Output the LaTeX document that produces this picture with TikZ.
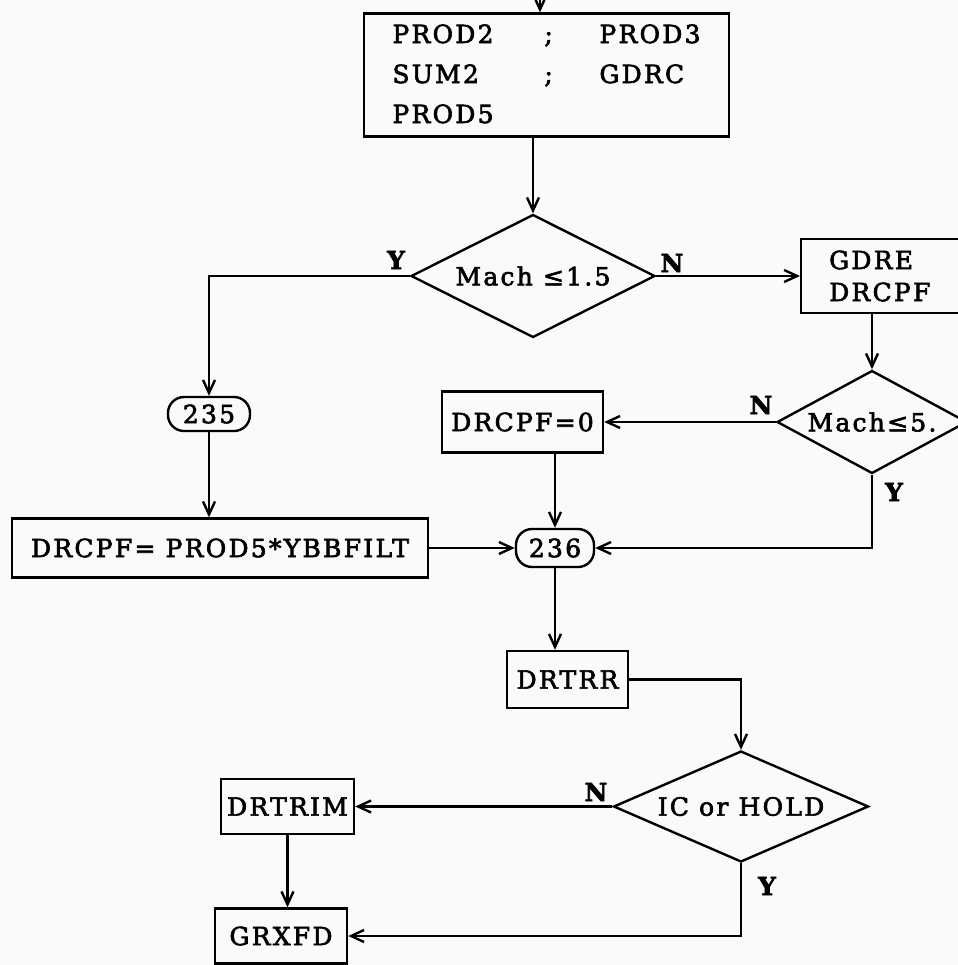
\documentclass[tikz,border=0pt]{standalone}
\usepackage{fontspec}
\setmainfont{DejaVu Serif}[LetterSpace=9, FakeBold=2.5]
\usetikzlibrary{shapes.geometric, arrows.meta}

\begin{document}
\begin{tikzpicture}[x=0.5pt, y=-0.5pt, font=\fontsize{12.5}{16}\selectfont, line width=1.2pt,
 box/.style={draw, rectangle, inner sep=0pt},
 term/.style={draw, rectangle, rounded corners=8pt, inner sep=0pt},
 test/.style={draw, diamond, shape aspect=2, inner sep=0pt},
 flow/.style={-{Straight Barb[length=6.5pt,width=6pt]}},
 yn/.style={inner sep=0pt, font=\fontsize{12.5}{14}\selectfont\bfseries}]

\useasboundingbox[fill=black!2] (0,0) rectangle (958,965);

% blocks
\node[box, minimum width=182.5pt, minimum height=61.5pt] (prod) at (546.5,75)
 {\renewcommand{\arraystretch}{1.25}\begin{tabular}{@{}p{76pt}@{}p{27.5pt}@{}l@{}}
 PROD2 & ; & PROD3\\ SUM2 & ; & GDRC\\ PROD5 & & \end{tabular}};
\node[test, minimum width=122pt, minimum height=61.5pt] (d1) at (533,276) {Mach ≤1.5};
\node[box, anchor=west, text width=62pt, inner xsep=14pt, align=left, minimum height=37pt] (gdre) at (800,276) {GDRE\\DRCPF};
\node[test, minimum width=95pt, minimum height=51.5pt] (d2) at (872,422) {Mach≤5.};
\node[box, minimum width=80.5pt, minimum height=30.5pt] (dr0) at (522.5,422) {DRCPF=0};
\node[term, minimum width=41pt, minimum height=17pt] (c235) at (209,414) {235};
\node[box, minimum width=208pt, minimum height=29.5pt] (dcp) at (220,548) {DRCPF= PROD5*YBBFILT};
\node[term, minimum width=39pt, minimum height=19pt] (c236) at (555,548) {236};
\node[box, minimum width=60.5pt, minimum height=28.5pt] (drtrr) at (567.5,679.5) {DRTRR};
\node[test, minimum width=127.5pt, minimum height=55.5pt] (d3) at (741,806.5) {IC or HOLD};
\node[box, minimum width=66.5pt, minimum height=27.5pt] (drtrim) at (287.5,806.5) {DRTRIM};
\node[box, minimum width=66pt, minimum height=27.5pt] (grxfd) at (281,936) {GRXFD};

% Y / N marks
\node[yn] (y1) at (396,260) {Y};
\node[yn] (n1) at (672,263) {N};
\node[yn] (n2) at (761,405) {N};
\node[yn] (y2) at (894,492) {Y};
\node[yn] (n3) at (596,792) {N};
\node[yn] (y3) at (767,886) {Y};

% flow lines
\coordinate (entry) at (540,0);
\draw[flow] (entry) -- (entry |- prod.north);
\draw[flow] (prod.south -| d1.north) -- (d1.north);
\draw[flow] (d1.west) -| (c235.north);
\draw[flow] (d1.east) -- (gdre.west);
\draw[flow] (gdre.south -| d2.north) -- (d2.north);
\draw[flow] (d2.west) -- (dr0.east);
\draw[flow] (d2.south) |- (c236.east);
\draw[flow] (dr0.south -| c236.north) -- (c236.north);
\draw[flow] (c235.south) -- (c235.south |- dcp.north);
\draw[flow] (dcp.east) -- (c236.west);
\draw[flow] (c236.south) -- (c236.south |- drtrr.north);
\draw[flow] (drtrr.east) -| (d3.north);
\draw[flow] (d3.west) -- (drtrim.east);
\draw[flow] (drtrim.south) -- (drtrim.south |- grxfd.north);
\draw[flow] (d3.south) |- (grxfd.east);
\end{tikzpicture}
\end{document}
